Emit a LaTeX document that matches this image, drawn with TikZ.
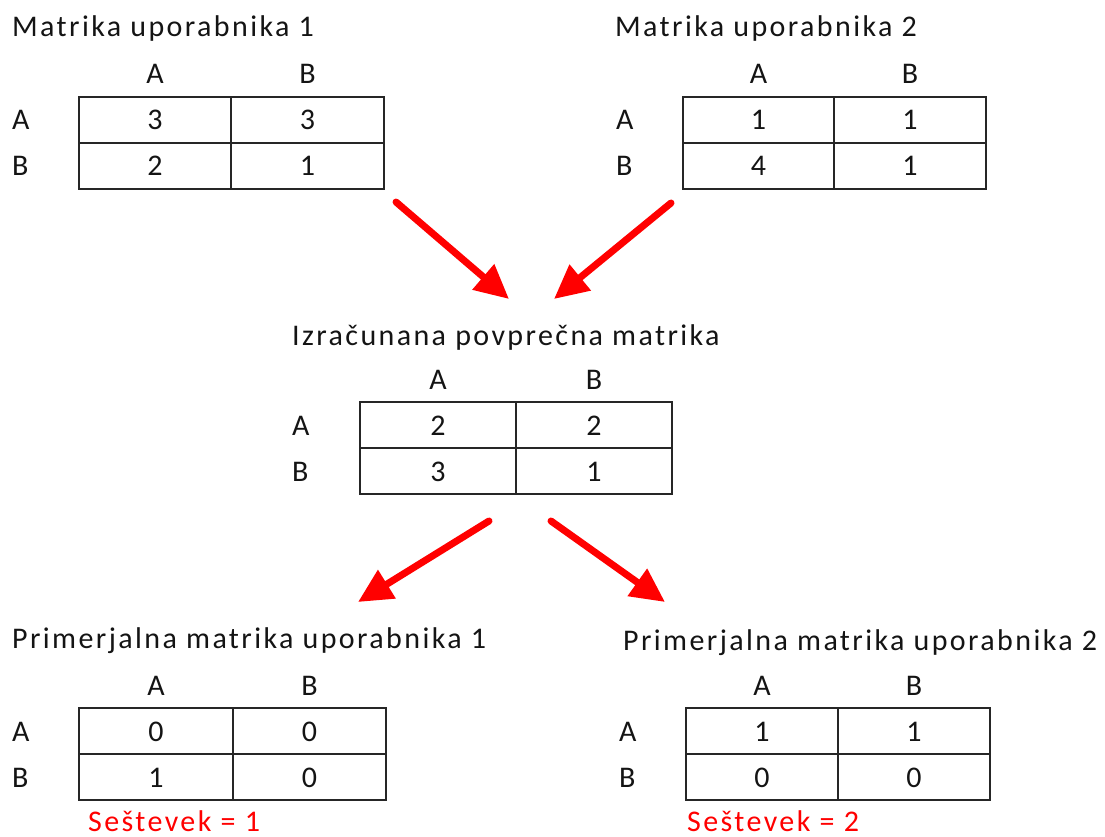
\documentclass[tikz,border=0pt]{standalone}
\usepackage{fontspec}
\setmainfont[LetterSpace=8]{Carlito}
\usetikzlibrary{arrows.meta}
\definecolor{txt}{RGB}{20,20,20}
\definecolor{arr}{RGB}{255,0,0}
\tikzset{
  grid/.style={draw=black!85, line width=2pt},
  lbl/.style={font=\fontsize{30}{36}\selectfont, text=txt, inner sep=0pt, anchor=base},
  ttl/.style={lbl, anchor=base west},
  sum/.style={font=\fontsize{30}{36}\selectfont, text=arr, inner sep=0pt, anchor=base west},
  flow/.style={draw=arr, line width=7pt, line cap=round, -{Triangle[length=34pt,width=32pt]}}
}
% #1 name, #2 left x, #3 top y, #4 middle x, #5 right x, #6 row-label x, #7..#9 entries (aa ab ba)
\newcommand\drawmat[9]{%
  \draw[grid] (#2,#3) rectangle (#5,#3+92);
  \draw[grid] (#2,#3+46) -- (#5,#3+46);
  \draw[grid] (#4,#3) -- (#4,#3+92);
  \node[lbl] (#1-cA) at ({(#2+#4)/2},#3-13) {A};
  \node[lbl] (#1-cB) at ({(#4+#5)/2},#3-13) {B};
  \node[lbl, anchor=base west] (#1-rA) at (#6,#3+33) {A};
  \node[lbl, anchor=base west] (#1-rB) at (#6,#3+79) {B};
  \node[lbl] (#1-aa) at ({(#2+#4)/2},#3+33) {#7};
  \node[lbl] (#1-ab) at ({(#4+#5)/2},#3+33) {#8};
  \node[lbl] (#1-ba) at ({(#2+#4)/2},#3+79) {#9};
}
\begin{document}
\begin{tikzpicture}[x=1pt,y=-1pt]
\useasboundingbox (0,0) rectangle (1105,837);

% top-left
\node[ttl] (t1) at (12,37) {Matrika uporabnika 1};
\drawmat{m1}{79}{97}{231}{384}{12}{3}{3}{2}
\node[lbl] (m1-bb) at ({(231+384)/2},176) {1};

% top-right
\node[ttl] (t2) at (615,37) {Matrika uporabnika 2};
\drawmat{m2}{683}{97}{834}{986}{616}{1}{1}{4}
\node[lbl] (m2-bb) at ({(834+986)/2},176) {1};

% middle
\node[ttl] (t3) at (292,345) {Izračunana povprečna matrika};
\drawmat{m3}{360}{402}{516}{672}{292}{2}{2}{3}
\node[lbl] (m3-bb) at ({(516+672)/2},481) {1};

% bottom-left
\node[ttl] (t4) at (12,648) {Primerjalna matrika uporabnika 1};
\drawmat{m4}{79}{708}{233}{386}{12}{0}{0}{1}
\node[lbl] (m4-bb) at ({(233+386)/2},787) {0};
\node[sum] (s4) at (88,831) {Seštevek = 1};

% bottom-right
\node[ttl] (t5) at (623,650) {Primerjalna matrika uporabnika 2};
\drawmat{m5}{686}{708}{838}{990}{619}{1}{1}{0}
\node[lbl] (m5-bb) at ({(838+990)/2},787) {0};
\node[sum] (s5) at (687,831) {Seštevek = 2};

% arrows
\coordinate (a1s) at (396,202);
\coordinate (a1e) at (509,299);
\coordinate (a2s) at (671,203);
\coordinate (a2e) at (554,299);
\coordinate (a3s) at (489,521);
\coordinate (a3e) at (358,602);
\coordinate (a4s) at (551,521);
\coordinate (a4e) at (665,602);
\draw[flow] (a1s) -- (a1e);
\draw[flow] (a2s) -- (a2e);
\draw[flow] (a3s) -- (a3e);
\draw[flow] (a4s) -- (a4e);
\end{tikzpicture}
\end{document}
